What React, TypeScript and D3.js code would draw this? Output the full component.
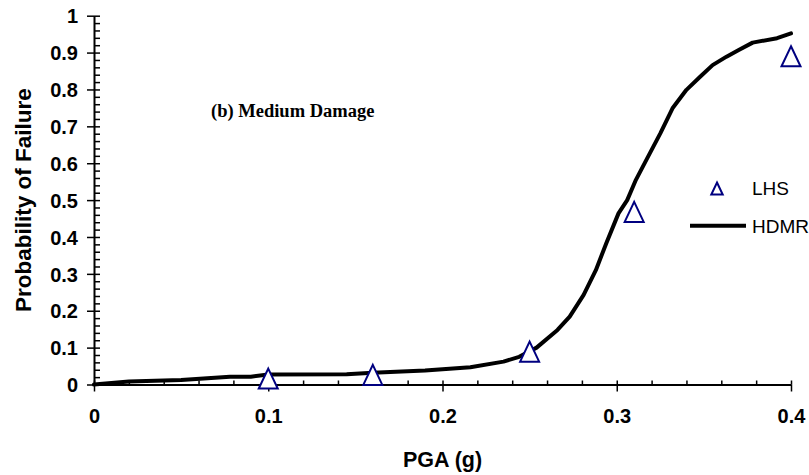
import { useEffect, useRef } from "react";
import * as d3 from "d3";

// HDMR curve (PGA in g, probability of failure)
const hdmrPga = [0, 0.02, 0.05, 0.078, 0.09, 0.1, 0.145, 0.16, 0.19, 0.216, 0.235, 0.244, 0.254, 0.266, 0.273, 0.281, 0.288, 0.294, 0.301, 0.306, 0.311, 0.317, 0.325, 0.332, 0.34, 0.348, 0.355, 0.363, 0.37, 0.378, 0.392, 0.4];
const hdmrProb = [0, 0.008, 0.012, 0.021, 0.021, 0.027, 0.028, 0.032, 0.038, 0.047, 0.062, 0.075, 0.1, 0.148, 0.184, 0.243, 0.31, 0.383, 0.464, 0.5, 0.555, 0.609, 0.681, 0.749, 0.799, 0.835, 0.866, 0.889, 0.907, 0.927, 0.939, 0.952];

// LHS samples
const lhsPga = [0.1, 0.16, 0.25, 0.31, 0.4];
const lhsProb = [0.016, 0.026, 0.089, 0.468, 0.89];

const xTicks = [0, 0.1, 0.2, 0.3, 0.4];
const xTickLabels = ["0", "0.1", "0.2", "0.3", "0.4"];
const yTicks = [0, 0.1, 0.2, 0.3, 0.4, 0.5, 0.6, 0.7, 0.8, 0.9, 1];
const yTickLabels = ["0", "0.1", "0.2", "0.3", "0.4", "0.5", "0.6", "0.7", "0.8", "0.9", "1"];

const sans = "'Liberation Sans', Arial, sans-serif";

// excel style triangle, centred on its bounding box
const triangle = {
    draw(ctx: any, size: number) {
        const r = Math.sqrt(size) / 2;
        ctx.moveTo(0, -r);
        ctx.lineTo(r * 0.95, r);
        ctx.lineTo(-r * 0.95, r);
        ctx.closePath();
    },
};

const App = () => {
    const chartRef = useRef<SVGSVGElement>(null);

    useEffect(() => {
        const svg = d3.select(chartRef.current);
        svg.selectAll("*").remove();

        const x = d3.scaleLinear().domain([0, 0.4]).range([94, 791]);
        const y = d3.scaleLinear().domain([0, 1]).range([384.5, 15.7]);

        const minorX = d3.range(0, 0.4001, 0.02);
        const minorY = d3.range(0, 1.0001, 0.02);

        // x axis
        const xAxis = svg.append("g")
            .attr("transform", `translate(0,${y(0)})`)
            .call(d3.axisBottom(x).tickValues(xTicks).tickFormat((d, i) => xTickLabels[i])
                .tickSizeInner(7).tickSizeOuter(0).tickPadding(17.5));
        xAxis.selectAll("text")
            .attr("font-family", sans).attr("font-weight", "bold").attr("font-size", 20).attr("fill", "black");

        svg.append("g")
            .attr("transform", `translate(0,${y(0)})`)
            .call(d3.axisTop(x).tickValues(minorX).tickFormat(() => "").tickSizeInner(4).tickSizeOuter(0))
            .call(g => g.select(".domain").remove());

        // y axis
        const yAxis = svg.append("g")
            .attr("transform", `translate(${x(0)},0)`)
            .call(d3.axisLeft(y).tickValues(yTicks).tickFormat((d, i) => yTickLabels[i])
                .tickSizeInner(7).tickSizeOuter(0).tickPadding(9));
        yAxis.selectAll("text")
            .attr("font-family", sans).attr("font-weight", "bold").attr("font-size", 20).attr("fill", "black")
            .attr("dy", "0.36em");

        svg.append("g")
            .attr("transform", `translate(${x(0)},0)`)
            .call(d3.axisRight(y).tickValues(minorY).tickFormat(() => "").tickSizeInner(6).tickSizeOuter(0))
            .call(g => g.select(".domain").remove());

        svg.selectAll(".domain").attr("stroke", "black").attr("stroke-width", 2);
        svg.selectAll(".tick line").attr("stroke", "black").attr("stroke-width", 1.5);

        // HDMR line
        const pts: [number, number][] = hdmrPga.map((p, i) => [p, hdmrProb[i]]);
        const line = d3.line<[number, number]>()
            .x(d => x(d[0]))
            .y(d => y(d[1]));

        svg.append("path")
            .datum(pts)
            .attr("d", line)
            .attr("fill", "none")
            .attr("stroke", "black")
            .attr("stroke-width", 4)
            .attr("stroke-linejoin", "round")
            .attr("stroke-linecap", "round");

        // LHS markers
        const tri = d3.symbol().type(triangle as any).size(400);
        svg.selectAll(".lhs")
            .data(lhsPga)
            .enter()
            .append("path")
            .attr("class", "lhs")
            .attr("transform", (d, i) => `translate(${x(d)},${y(lhsProb[i])})`)
            .attr("d", tri)
            .attr("fill", "white")
            .attr("stroke", "#000080")
            .attr("stroke-width", 2);

        // axis titles
        svg.append("text")
            .attr("x", (x(0) + x(0.4)) / 2)
            .attr("y", 467)
            .attr("text-anchor", "middle")
            .attr("font-family", sans)
            .attr("font-weight", "bold")
            .attr("font-size", 21.5)
            .text("PGA (g)");

        svg.append("text")
            .attr("transform", `translate(30.5,${(y(0) + y(1)) / 2}) rotate(-90)`)
            .attr("text-anchor", "middle")
            .attr("font-family", sans)
            .attr("font-weight", "bold")
            .attr("font-size", 22.5)
            .text("Probability of Failure");

        // annotation
        svg.append("text")
            .attr("x", 211)
            .attr("y", 117)
            .attr("font-family", "'Liberation Serif', 'Times New Roman', serif")
            .attr("font-weight", "bold")
            .attr("font-size", 18.5)
            .text("(b) Medium Damage");

        // legend
        const legend = svg.append("g");
        legend.append("path")
            .attr("transform", "translate(717,188.5)")
            .attr("d", d3.symbol().type(triangle as any).size(144)())
            .attr("fill", "white")
            .attr("stroke", "#000080")
            .attr("stroke-width", 2);
        legend.append("text")
            .attr("x", 752)
            .attr("y", 188.5)
            .attr("dy", "0.36em")
            .attr("font-family", sans)
            .attr("font-size", 19)
            .text("LHS");
        legend.append("line")
            .attr("x1", 690).attr("x2", 746)
            .attr("y1", 225.7).attr("y2", 225.7)
            .attr("stroke", "black")
            .attr("stroke-width", 4);
        legend.append("text")
            .attr("x", 752)
            .attr("y", 225.7)
            .attr("dy", "0.36em")
            .attr("font-family", sans)
            .attr("font-size", 19)
            .text("HDMR");

        return () => {
            d3.select(chartRef.current).selectAll("*").remove();
        };
    }, []);

    return (
        <svg
            ref={chartRef}
            width={809}
            height={475}
            style={{ position: "absolute", left: 0, top: 0, background: "white", overflow: "hidden" }}
        ></svg>
    );
};

export default App;
